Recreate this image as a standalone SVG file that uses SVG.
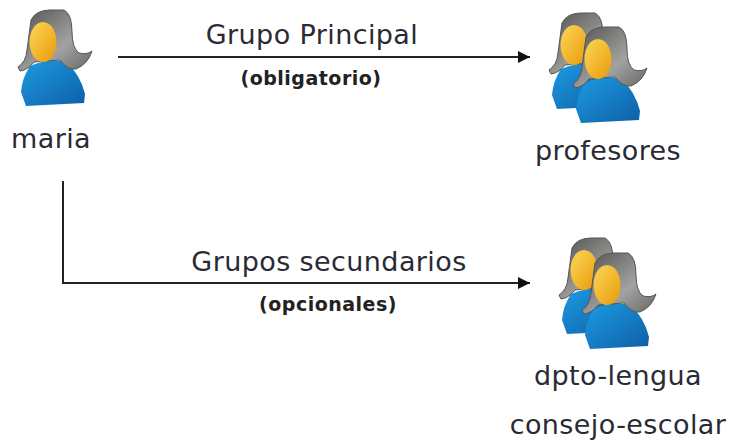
<svg xmlns="http://www.w3.org/2000/svg" width="730" height="443" viewBox="0 0 730 443">
<style>
.l{font-family:"DejaVu Sans",Verdana,sans-serif;font-size:27px;letter-spacing:.4px;fill:#2a2a34}
.b{font-family:"DejaVu Sans",Verdana,sans-serif;font-size:19px;letter-spacing:.5px;font-weight:bold;fill:#222}
.c{fill:none;stroke:#222;stroke-width:2}
</style>
<defs>
<marker id="a" markerUnits="userSpaceOnUse" markerWidth="14" markerHeight="12" refX="12" refY="6" orient="auto"><path d="M0 0L12 6L0 12Z" fill="#111"/></marker>
<linearGradient id="f" x1="0" y1="0" x2="1" y2="1"><stop offset="0" stop-color="#fcd75a"/><stop offset="1" stop-color="#e99a08"/></linearGradient>
<linearGradient id="s" x1="0" y1="0" x2="1" y2="1"><stop offset="0" stop-color="#1c9be2"/><stop offset="1" stop-color="#0e5fa6"/></linearGradient>
<linearGradient id="h" x1="0" y1="0" x2="1" y2="1"><stop offset="0" stop-color="#505050"/><stop offset=".6" stop-color="#a2a2a0"/><stop offset="1" stop-color="#666"/></linearGradient>
<g id="p">
<path d="M30 66Q48 58 66 62Q80 74 85 94L84 103L26 106L21 92Q22 78 30 66Z" fill="url(#s)"/>
<path d="M31 20Q36 10 50 10L64 10Q72 14 72 32Q72 48 79 53Q87 55 92 51Q88 64 76 69Q67 70 60 60L34 62Q28 70 20 71L18 67Q26 62 27 50Z" fill="url(#h)" stroke="#555"/>
<ellipse cx="43" cy="42" rx="13.5" ry="20" fill="url(#f)"/>
</g>
</defs>
<rect width="730" height="443" fill="#fff"/>
<g id="connectors">
<path class="c" d="M118 57H530" marker-end="url(#a)"/>
<path class="c" d="M63 181V283H530" marker-end="url(#a)"/>
</g>
<g id="maria"><use href="#p"/><text class="l" x="51" y="148" text-anchor="middle">maria</text></g>
<g id="profesores"><use href="#p" x="531" y="3"/><use href="#p" x="555" y="17"/><text class="l" x="608" y="160" text-anchor="middle">profesores</text></g>
<g id="dpto"><use href="#p" x="541" y="228"/><use href="#p" x="564" y="243"/><text class="l" x="618" y="385" text-anchor="middle">dpto-lengua</text><text class="l" x="618" y="434" text-anchor="middle">consejo-escolar</text></g>
<g id="labels">
<text class="l" x="312" y="44" text-anchor="middle">Grupo Principal</text>
<text class="b" x="311" y="85" text-anchor="middle">(obligatorio)</text>
<text class="l" x="329" y="271" text-anchor="middle">Grupos secundarios</text>
<text class="b" x="328" y="311" text-anchor="middle">(opcionales)</text>
</g>
</svg>
